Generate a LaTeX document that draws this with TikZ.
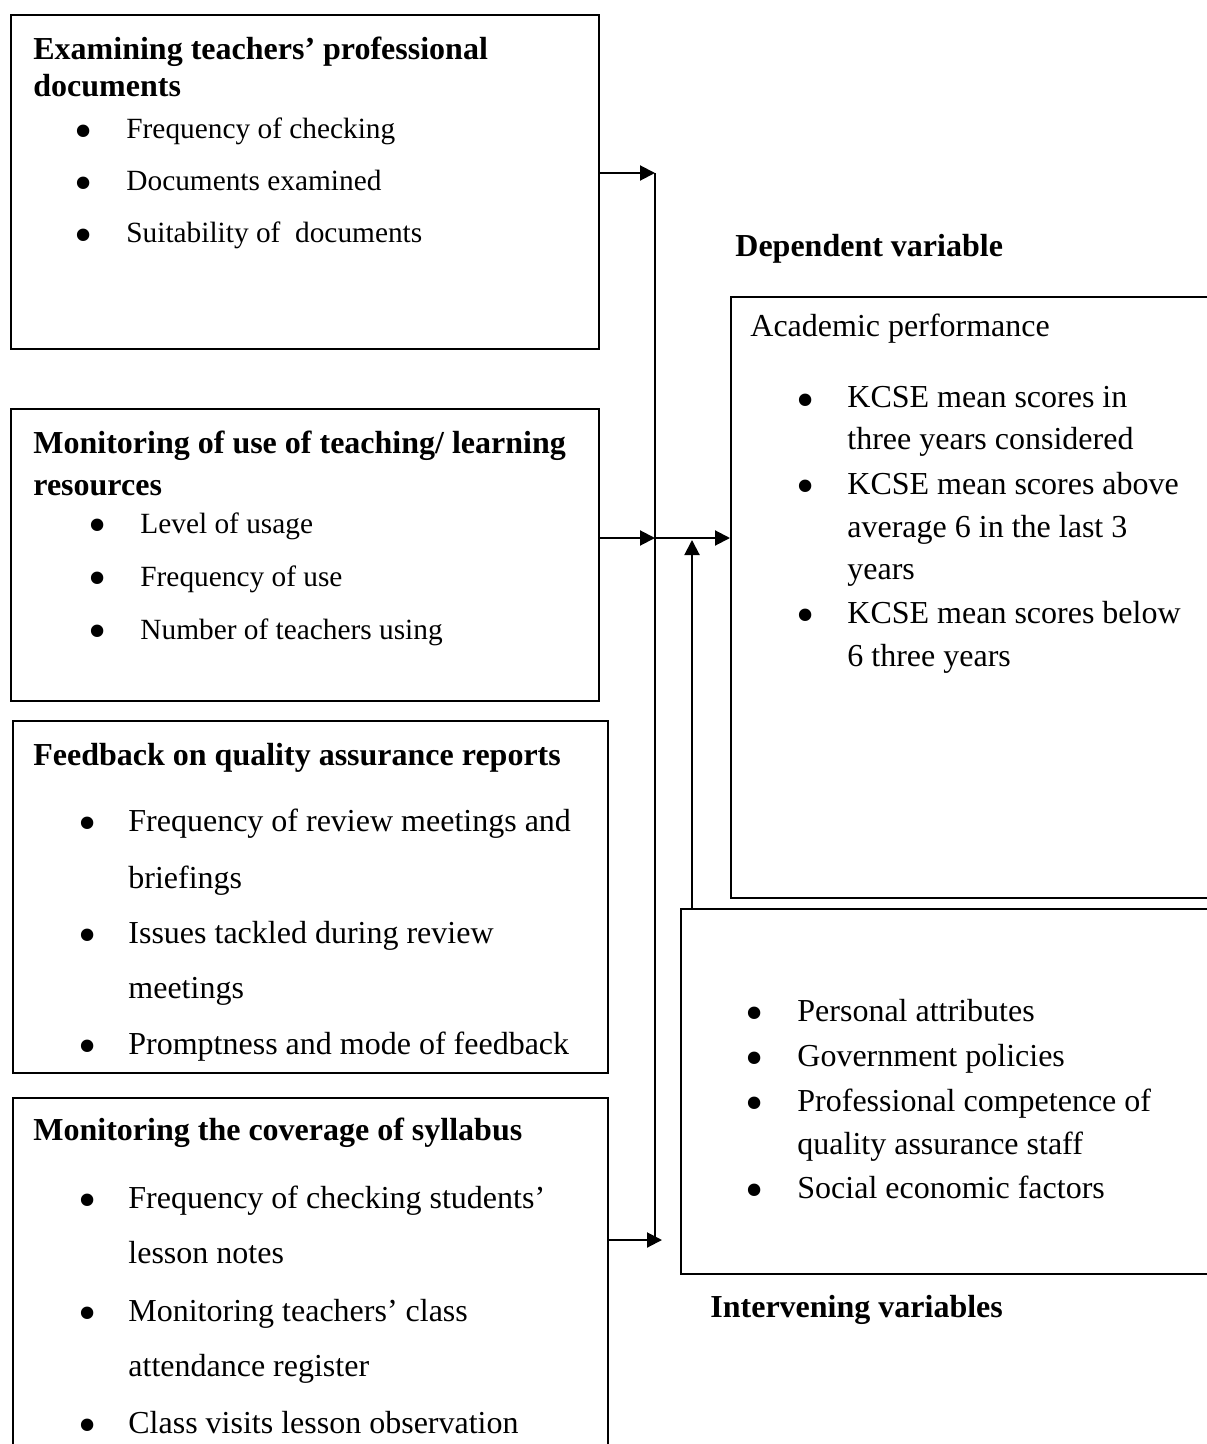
\documentclass[tikz,border=0pt]{standalone}
\usepackage{fontspec}
\setmainfont{Liberation Serif}
\usetikzlibrary{positioning,arrows.meta,calc}

\begin{document}
\begin{tikzpicture}[
    x=0.5pt, y=-0.5pt,
    >={Triangle[length=7.5pt,width=7.5pt]},
    % boxes of the framework
    box/.style={
        draw=black,
        line width=1pt,
        anchor=north west,
        inner sep=0pt
    },
    head/.style={
        anchor=base west,
        inner sep=0pt,
        font=\fontsize{16}{19}\selectfont\bfseries
    },
    item/.style={
        anchor=base west,
        inner sep=0pt,
        font=\fontsize{16}{19}\selectfont
    },
    smallitem/.style={
        item,
        font=\fontsize{14.67}{17.6}\selectfont
    },
    dot/.style={
        anchor=base,
        inner sep=0pt,
        yshift=-4.7pt,
        font=\fontsize{26}{26}\selectfont
    },
    wire/.style={
        draw=black,
        line width=1pt
    },
    flow/.style={
        ->,
        wire
    }
]

    \useasboundingbox (0,0) rectangle (1206,1444);

    % =========================================================================
    % 1. INDEPENDENT VARIABLES (left column)
    % =========================================================================
    % Box 1: professional documents
    \node[box, minimum width=294pt, minimum height=167pt] (exam) at (10,14) {};
    \node[head] (examhead1) at (33,60) {Examining teachers’ professional};
    \node[head] (examhead2) at (33,97) {documents};
    \foreach \y/\t [count=\i] in {139/Frequency of checking,
                                  191/Documents examined,
                                  243/Suitability of~ documents} {
        \node[dot] (examdot\i) at (84,\y) {\textbullet};
        \node[smallitem] (examitem\i) at (126,\y) {\t};
    }

    % Box 2: teaching / learning resources
    \node[box, minimum width=294pt, minimum height=146pt] (monit) at (10,408) {};
    \node[head] (monithead1) at (33,453) {Monitoring of use of teaching/ learning};
    \node[head] (monithead2) at (33,495) {resources};
    \foreach \y/\t [count=\i] in {533/Level of usage,
                                  586/Frequency of use,
                                  639/Number of teachers using} {
        \node[dot] (monitdot\i) at (98,\y) {\textbullet};
        \node[smallitem] (monititem\i) at (140,\y) {\t};
    }

    % Box 3: feedback on reports
    \node[box, minimum width=297.5pt, minimum height=176pt] (feed) at (12,720) {};
    \node[head] (feedhead) at (33,765) {Feedback on quality assurance reports};
    \node[dot] (feeddot1) at (88,831) {\textbullet};
    \node[item] (feeditem1) at (128,831) {Frequency of review meetings and};
    \node[item] (feeditem1b) at (128,888) {briefings};
    \node[dot] (feeddot2) at (88,943) {\textbullet};
    \node[item] (feeditem2) at (128,943) {Issues tackled during review};
    \node[item] (feeditem2b) at (128,998) {meetings};
    \node[dot] (feeddot3) at (88,1054) {\textbullet};
    \node[item] (feeditem3) at (128,1054) {Promptness and mode of feedback};

    % Box 4: syllabus coverage
    \node[box, minimum width=297.5pt, minimum height=186.5pt] (syll) at (12,1097) {};
    \node[head] (syllhead) at (33,1140) {Monitoring the coverage of syllabus};
    \node[dot] (sylldot1) at (88,1208) {\textbullet};
    \node[item] (syllitem1) at (128,1208) {Frequency of checking students’};
    \node[item] (syllitem1b) at (128,1263) {lesson notes};
    \node[dot] (sylldot2) at (88,1321) {\textbullet};
    \node[item] (syllitem2) at (128,1321) {Monitoring teachers’ class};
    \node[item] (syllitem2b) at (128,1376) {attendance register};
    \node[dot] (sylldot3) at (88,1433) {\textbullet};
    \node[item] (syllitem3) at (128,1433) {Class visits lesson observation};

    % =========================================================================
    % 2. DEPENDENT VARIABLE (right, top)
    % =========================================================================
    \node[head] (deptitle) at (735,257) {Dependent variable};
    \node[box, minimum width=245pt, minimum height=300.5pt] (dep) at (730,296) {};
    \node[item] (dephead) at (750,336) {Academic performance};
    \node[dot] (depdot1) at (806,408) {\textbullet};
    \node[item] (depitem1) at (847,408) {KCSE mean scores in};
    \node[item] (depitem1b) at (847,449) {three years considered};
    \node[dot] (depdot2) at (806,494) {\textbullet};
    \node[item] (depitem2) at (847,494) {KCSE mean scores above};
    \node[item] (depitem2b) at (847,537) {average 6 in the last 3};
    \node[item] (depitem2c) at (847,579) {years};
    \node[dot] (depdot3) at (806,623) {\textbullet};
    \node[item] (depitem3) at (847,623) {KCSE mean scores below};
    \node[item] (depitem3b) at (847,666) {6 three years};

    % =========================================================================
    % 3. INTERVENING VARIABLES (right, bottom)
    % =========================================================================
    \node[box, minimum width=270pt, minimum height=182.5pt] (interv) at (680,908) {};
    \foreach \y/\t [count=\i] in {1021/Personal attributes,
                                  1066/Government policies,
                                  1111/Professional competence of,
                                  1198/Social economic factors} {
        \node[dot] (intervdot\i) at (755,\y) {\textbullet};
        \node[item] (intervitem\i) at (797,\y) {\t};
    }
    \node[item] (intervitem3b) at (797,1154) {quality assurance staff};
    \node[head] (intervtitle) at (710,1317) {Intervening variables};

    % =========================================================================
    % 4. CONNECTORS
    % =========================================================================
    \coordinate (bustop) at (655,173);
    \coordinate (busmid) at (655,538);
    \coordinate (busbot) at (655,1240);
    \coordinate (busend) at (662,1240);
    \coordinate (lift) at (692,540);

    \draw[wire] (bustop) -- (busbot);
    \draw[flow] (exam.east |- bustop) -- (bustop);
    \draw[flow] (monit.east |- busmid) -- (busmid);
    \draw[flow] (busmid) -- (dep.west |- busmid);
    \draw[flow] (interv.north -| lift) -- (lift);
    \draw[flow] (syll.east |- busend) -- (busend);

\end{tikzpicture}
\end{document}
